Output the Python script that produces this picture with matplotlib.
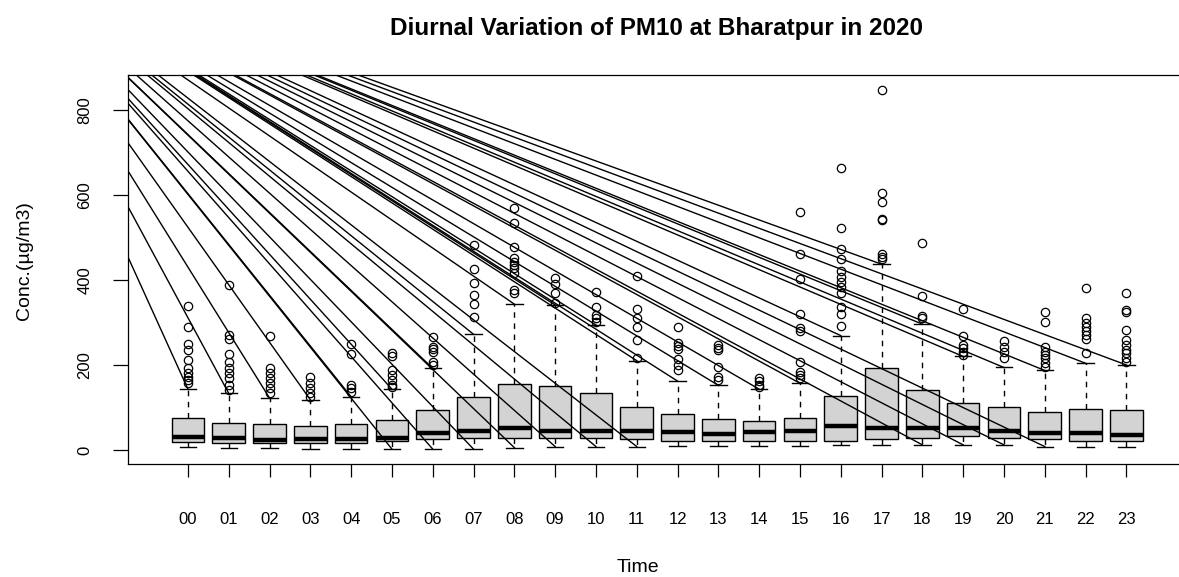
import matplotlib
matplotlib.use("Agg")
import matplotlib.pyplot as plt

plt.rcParams['font.family'] = ['Liberation Sans', 'DejaVu Sans']

# hourly box statistics of PM10 (ug/m3)
hours = ["%02d" % h for h in range(24)]
q1 = [18, 16, 16, 16, 16, 21, 25, 29, 29, 29, 29, 25, 22, 22, 22, 22, 22, 25, 29, 33, 29, 25, 22, 22]
med = [30.6, 27.5, 23.5, 25, 25, 28, 39, 45.5, 52.5, 45.5, 45.5, 45.5, 41.5, 37.6, 41.5, 45.5,
       56.5, 52.5, 52.5, 52.5, 45.5, 39, 39, 35]
q3 = [74.5, 64, 60, 56.5, 60, 70.6, 94, 124, 154.5, 151, 135, 100, 84, 73, 69, 76,
      127, 192, 141, 110, 100, 90, 96.5, 94]
whislo = [8, 4, 4, 2, 2, 2, 2, 2, 5.5, 8, 8, 8, 9, 9, 9, 9, 12, 12, 12, 12, 12, 8, 8, 8]
whishi = [143, 133, 122, 118, 125, 143, 192, 272, 343, 341, 294, 210, 162, 152, 143, 157,
          269, 437, 296, 220, 194, 187, 204, 200]
fliers = [
    [339, 289, 249, 235, 212, 192, 180, 172, 165, 157],
    [388, 271, 260, 226, 208, 192, 180, 169, 153, 140],
    [268, 192, 180, 169, 157, 145, 133],
    [172, 157, 145, 133, 125],
    [249, 225, 153, 145, 137],
    [229, 220, 188, 176, 165, 153, 147],
    [265, 243, 237, 231, 208, 200],
    [482, 426, 392, 365, 344, 312],
    [570, 533, 478, 451, 443, 435, 427, 416, 376, 369],
    [404, 391, 369, 345],
    [372, 337, 318, 310, 302],
    [409, 331, 310, 290, 259, 216],
    [290, 252, 245, 237, 213, 200, 188],
    [247, 239, 234, 196, 172, 165],
    [170, 162, 153, 147],
    [559, 460, 402, 320, 286, 280, 208, 184, 176, 169],
    [663, 522, 473, 449, 420, 408, 396, 384, 369, 337, 320, 292],
    [847, 604, 584, 543, 540, 460, 453, 449],
    [488, 361, 314, 310],
    [331, 268, 247, 239, 231, 224],
    [257, 243, 231, 216],
    [325, 300, 243, 231, 224, 216, 204, 196],
    [382, 310, 298, 290, 280, 270, 260, 229],
    [369, 329, 325, 282, 259, 247, 235, 227, 216, 208],
]
yticks = [0, 200, 400, 600, 800]
# stray lines in the original all start from one point off the plot
line_start = (-4, 1200)
low_line_hours = [5, 6, 7, 8, 9, 10, 11, 18, 19, 20, 21]

stats = []
for i in range(len(hours)):
    stats.append({'med': med[i], 'q1': q1[i], 'q3': q3[i], 'whislo': whislo[i],
                  'whishi': whishi[i], 'fliers': fliers[i]})
pos = list(range(1, len(hours) + 1))

fig = plt.figure(figsize=(11.79, 5.77), dpi=100)
# plot box runs off the right edge of the picture in the original
ax = fig.add_axes([128 / 1179, 1 - 464 / 577, 1051 / 1179, 389 / 577])

ax.bxp(stats, positions=pos, widths=0.8, patch_artist=True, capwidths=0.4,
       boxprops=dict(facecolor='#d3d3d3', edgecolor='black', linewidth=1),
       medianprops=dict(color='black', linewidth=3.2, solid_capstyle='butt'),
       whiskerprops=dict(color='black', linewidth=1, linestyle=(0, (4, 4))),
       capprops=dict(color='black', linewidth=1),
       flierprops=dict(marker='o', markerfacecolor='none', markeredgecolor='black',
                       markersize=6, markeredgewidth=0.9))

for i in range(len(hours)):
    ax.plot([line_start[0], pos[i]], [line_start[1], whishi[i]], color='black', lw=1, zorder=5)
for i in low_line_hours:
    ax.plot([line_start[0], pos[i]], [line_start[1], whislo[i]], color='black', lw=1, zorder=5)

ax.set_xlim(-0.47, 25.29)
ax.set_ylim(-33, 882)
ax.set_xticks(pos)
ax.set_xticklabels(hours)
ax.set_yticks(yticks)
for s in ax.spines.values():
    s.set_linewidth(0.9)
ax.spines['right'].set_visible(False)
ax.tick_params(axis='x', direction='out', length=9.5, width=0.9, pad=25, labelsize=12)
ax.tick_params(axis='y', direction='out', length=10.8, width=0.9, pad=15, labelsize=12)
for t in ax.get_yticklabels():
    t.set_rotation(90)
    t.set_va('center')

fig.text(657 / 1179, 1 - 28 / 577, "Diurnal Variation of PM10 at Bharatpur in 2020",
         fontsize=17.5, fontweight='bold', ha='center', va='center')
ax.set_xlabel("Time", fontsize=14)
ax.xaxis.set_label_coords(510 / 1051, -0.265)
ax.xaxis.label.set_va('center')
ax.set_ylabel("Conc.(\u00b5g/m3)", fontsize=14)
ax.yaxis.set_label_coords(-103 / 1051, 0.522)
ax.yaxis.label.set_va('center')

fig.savefig("out.png", dpi=100)
